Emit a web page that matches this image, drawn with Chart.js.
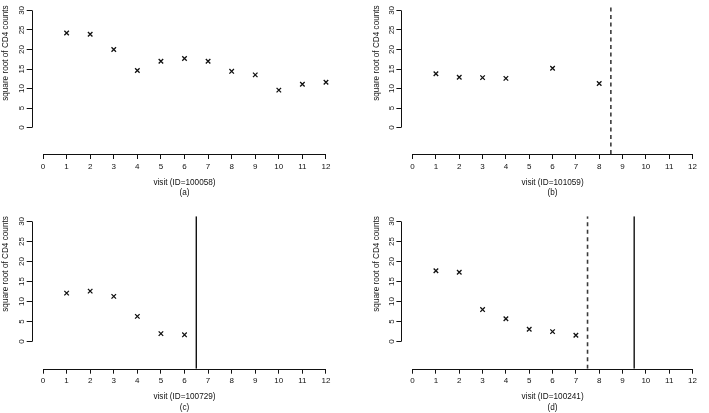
<!DOCTYPE html>
<html>
<head>
<meta charset="utf-8">
<script src="https://cdn.jsdelivr.net/npm/chart.js@4.4.0/dist/chart.umd.min.js"></script>
<style>
  html, body { margin: 0; padding: 0; background: #fff; }
  #wrap { position: relative; width: 709px; height: 413px; }
  canvas { position: absolute; }
</style>
</head>
<body>
<div id="wrap">
  <canvas id="panelA" width="354" height="206" style="left:0;top:0"></canvas>
  <canvas id="panelB" width="355" height="206" style="left:354px;top:0"></canvas>
  <canvas id="panelC" width="354" height="207" style="left:0;top:206px"></canvas>
  <canvas id="panelD" width="355" height="207" style="left:354px;top:206px"></canvas>
</div>
<script>
const xTicks = [0, 1, 2, 3, 4, 5, 6, 7, 8, 9, 10, 11, 12];
const yTicks = [0, 5, 10, 15, 20, 25, 30];

// square root of CD4 counts per visit, one pair of arrays per patient
const visitsA = [1, 2, 3, 4, 5, 6, 7, 8, 9, 10, 11, 12];
const cd4A = [24.2, 23.9, 20.0, 14.6, 17.0, 17.7, 17.0, 14.4, 13.5, 9.6, 11.1, 11.6];
const visitsB = [1, 2, 3, 4, 6, 8];
const cd4B = [13.8, 12.9, 12.8, 12.6, 15.2, 11.3];
const visitsC = [1, 2, 3, 4, 5, 6];
const cd4C = [12.1, 12.6, 11.3, 6.3, 2.0, 1.7];
const visitsD = [1, 2, 3, 4, 5, 6, 7];
const cd4D = [17.7, 17.3, 8.0, 5.7, 3.1, 2.5, 1.6];

const patientIds = ['100058', '101059', '100729', '100241'];
const panelLetters = ['a', 'b', 'c', 'd'];
const dashedAt = [null, 8.5, null, 7.5];
const solidAt = [null, null, 6.5, 9.5];

const xMin = -0.48, xMax = 12.48;
const yMin = -6.75, yMax = 31.3;

const FONT = "'Liberation Sans', Arial, Helvetica, sans-serif";
const INK = '#111';

// R style axis lines: only span first to last tick
const rAxes = {
    id: 'rAxes',
    afterDraw(chart) {
        const {ctx, chartArea, scales: {x, y}} = chart;
        ctx.save();
        ctx.strokeStyle = INK;
        ctx.lineWidth = 1;
        ctx.beginPath();
        const by = Math.round(chartArea.bottom) + 0.5;
        ctx.moveTo(x.getPixelForValue(xTicks[0]), by);
        ctx.lineTo(x.getPixelForValue(xTicks[xTicks.length - 1]), by);
        const lx = Math.round(chartArea.left) + 0.5;
        ctx.moveTo(lx, y.getPixelForValue(yTicks[0]));
        ctx.lineTo(lx, y.getPixelForValue(yTicks[yTicks.length - 1]));
        ctx.stroke();
        ctx.restore();
    }
};

function vline(at, dashed) {
    return {
        type: 'line',
        data: [{x: at, y: yMin}, {x: at, y: yMax}],
        borderColor: dashed ? '#3a3a3a' : INK,
        borderWidth: dashed ? 1.6 : 1.4,
        borderDash: dashed ? [4, 3.5] : [],
        pointRadius: 0
    };
}

function makePanel(canvasId, i, visits, cd4, padding, yTitlePad) {
    const datasets = [{
        type: 'scatter',
        data: visits.map((v, k) => ({x: v, y: cd4[k]})),
        pointStyle: 'crossRot',
        pointRadius: 3.2,
        borderColor: INK,
        borderWidth: 1.3
    }];
    if (dashedAt[i] !== null) datasets.push(vline(dashedAt[i], true));
    if (solidAt[i] !== null) datasets.push(vline(solidAt[i], false));

    new Chart(document.getElementById(canvasId), {
        type: 'scatter',
        data: {datasets},
        options: {
            responsive: false,
            animation: false,
            layout: {padding},
            plugins: {legend: {display: false}, tooltip: {enabled: false}},
            scales: {
                x: {
                    type: 'linear',
                    min: xMin,
                    max: xMax,
                    afterBuildTicks: s => { s.ticks = xTicks.map(v => ({value: v})); },
                    afterFit: s => { s.height = 44; },
                    border: {display: false},
                    grid: {drawOnChartArea: false, drawTicks: true, tickLength: 5, color: INK, lineWidth: 1},
                    ticks: {color: INK, font: {family: FONT, size: 8}, padding: 2.5, maxRotation: 0, autoSkip: false},
                    title: {
                        display: true,
                        text: ['visit (ID=' + patientIds[i] + ')', '(' + panelLetters[i] + ')'],
                        color: INK,
                        font: {family: FONT, size: 8.2, lineHeight: 1.28},
                        padding: {top: 0, bottom: 0}
                    }
                },
                y: {
                    type: 'linear',
                    min: yMin,
                    max: yMax,
                    afterBuildTicks: s => { s.ticks = yTicks.map(v => ({value: v})); },
                    afterFit: s => { s.width = 31.7; },
                    border: {display: false},
                    grid: {drawOnChartArea: false, drawTicks: true, tickLength: 5, color: INK, lineWidth: 1},
                    ticks: {color: INK, font: {family: FONT, size: 8}, padding: 0.5, minRotation: 90, maxRotation: 90, crossAlign: 'center', autoSkip: false},
                    title: {
                        display: true,
                        text: 'square root of CD4 counts',
                        align: 'end',
                        color: INK,
                        font: {family: FONT, size: 8.2, lineHeight: 1.28},
                        padding: {top: yTitlePad, bottom: 0}
                    }
                }
            }
        },
        plugins: [rAxes]
    });
}

makePanel('panelA', 0, visitsA, cd4A, {left: 0, top: 1.8, right: 16.7, bottom: 8}, 0.75);
makePanel('panelB', 1, visitsB, cd4B, {left: 15.7, top: 1.8, right: 3, bottom: 8}, 2);
makePanel('panelC', 2, visitsC, cd4C, {left: 0, top: 10.2, right: 16.7, bottom: 0.3}, 0.75);
makePanel('panelD', 3, visitsD, cd4D, {left: 15.7, top: 10.2, right: 3, bottom: 0.3}, 2);
</script>
</body>
</html>
